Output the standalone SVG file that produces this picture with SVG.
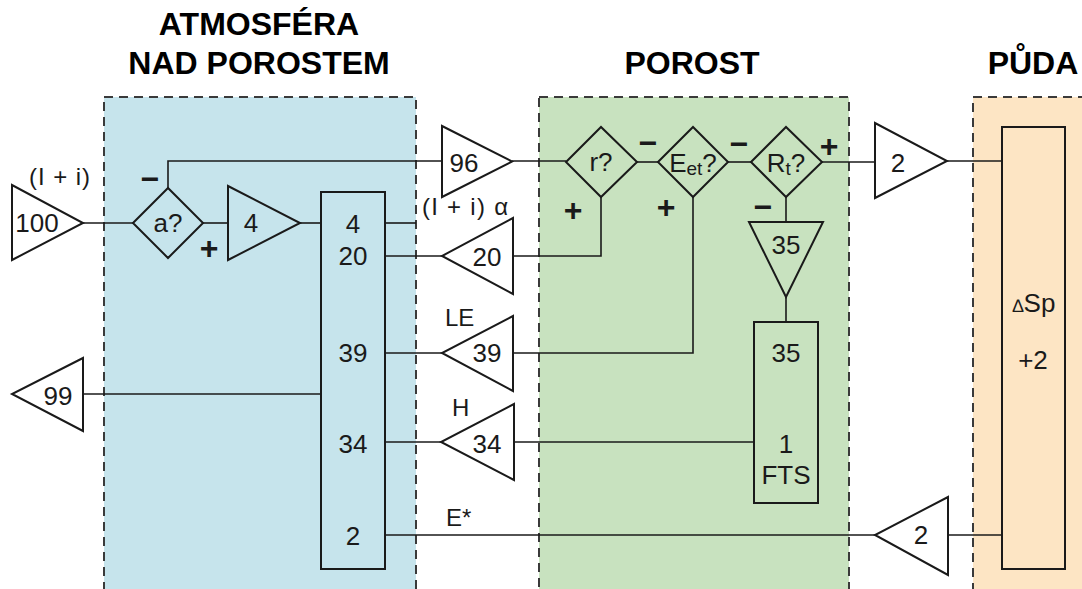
<svg xmlns="http://www.w3.org/2000/svg" width="1082" height="589" viewBox="0 0 1082 589">
<style>
.panel{stroke:#3a3a3a;stroke-width:2;stroke-dasharray:9 6}
.shape{fill:none;stroke:#1a1a1a;stroke-width:2}
.wire{fill:none;stroke:#1a1a1a;stroke-width:1.6}
text{font-family:"Liberation Sans",Arial,sans-serif;fill:#1a1a1a}
.t{font-size:26px;text-anchor:middle}
.l{font-size:24px}
.title{font-size:32px;font-weight:bold;text-anchor:middle;fill:#000}
.sign{font-size:32px;font-weight:bold;text-anchor:middle}
.sub{font-size:19px}
</style>
<rect width="1082" height="589" fill="#ffffff"/>
<g id="panels">
<rect id="panel-atm" x="104" y="97" width="312" height="520" fill="#c6e4ec" class="panel"/>
<rect id="panel-porost" x="539" y="97" width="310" height="520" fill="#c8e2bf" class="panel"/>
<rect id="panel-puda" x="973" y="97" width="140" height="520" fill="#fde5c4" class="panel"/>
</g>
<g id="titles">
<text class="title" x="259" y="35">ATMOSFÉRA</text>
<text class="title" x="259" y="74">NAD POROSTEM</text>
<text class="title" x="692" y="74">POROST</text>
<text class="title" x="1033" y="74">PŮDA</text>
</g>
<g id="connectors">
<polyline class="wire" points="83,223 133,223"/>
<polyline class="wire" points="203,223 228,223"/>
<polyline class="wire" points="300,223 321,223"/>
<polyline class="wire" points="168,188 168,161 442,161"/>
<polyline class="wire" points="512,161 566,161"/>
<polyline class="wire" points="637,162 658,162"/>
<polyline class="wire" points="728,162 751,162"/>
<polyline class="wire" points="822,162 875,162"/>
<polyline class="wire" points="947,161 1002,161"/>
<polyline class="wire" points="385,223 416,223"/>
<polyline class="wire" points="385,256 442,256"/>
<polyline class="wire" points="513,256 601,256 601,197"/>
<polyline class="wire" points="385,353 442,353"/>
<polyline class="wire" points="513,353 693,353 693,197"/>
<polyline class="wire" points="786,197 786,222"/>
<polyline class="wire" points="786,297 786,322"/>
<polyline class="wire" points="385,442 441,442"/>
<polyline class="wire" points="514,442 754,442"/>
<polyline class="wire" points="83,394 321,394"/>
<polyline class="wire" points="385,535 875,535"/>
<polyline class="wire" points="948,535 1002,535"/>
</g>
<g id="n-100">
<polygon class="shape" points="12,185 12,260 83,223"/>
<text class="t" x="37" y="232">100</text>
<text class="l" x="29" y="185" textLength="61" lengthAdjust="spacing">(I + i)</text>
</g>
<g id="n-a">
<polygon class="shape" points="133,223 168,188 203,223 168,258"/>
<text class="t" x="168" y="232">a?</text>
</g>
<g id="n-4">
<polygon class="shape" points="228,186 228,260 300,223"/>
<text class="t" x="251" y="232">4</text>
</g>
<g id="n-atm-box">
<rect class="shape" x="321" y="192" width="64" height="377"/>
<text class="t" x="353" y="233">4</text>
<text class="t" x="353" y="265">20</text>
<text class="t" x="353" y="362">39</text>
<text class="t" x="353" y="453">34</text>
<text class="t" x="353" y="545">2</text>
</g>
<g id="n-96">
<polygon class="shape" points="442,126 442,197 512,161.5"/>
<text class="t" x="464" y="172">96</text>
</g>
<g id="n-20">
<polygon class="shape" points="513,218 513,294 442,256"/>
<text class="t" x="487" y="266">20</text>
<text class="l" x="422" y="215" textLength="86" lengthAdjust="spacing">(I + i) α</text>
</g>
<g id="n-39">
<polygon class="shape" points="513,316 513,391 442,353"/>
<text class="t" x="487" y="362">39</text>
<text class="l" x="445" y="326">LE</text>
</g>
<g id="n-34">
<polygon class="shape" points="514,404 514,480 441,442"/>
<text class="t" x="487" y="453">34</text>
<text class="l" x="452" y="416">H</text>
</g>
<g id="n-99">
<polygon class="shape" points="83,358 83,431 12,394"/>
<text class="t" x="58" y="405">99</text>
</g>
<g id="n-r">
<polygon class="shape" points="566,162 601,127 637,162 601,197"/>
<text class="t" x="601" y="171">r?</text>
</g>
<g id="n-eet">
<polygon class="shape" points="658,162 693,127 728,162 693,197"/>
<text class="t" x="693" y="172">E<tspan class="sub" dy="3">et</tspan><tspan dy="-3">?</tspan></text>
</g>
<g id="n-rt">
<polygon class="shape" points="751,162 786,127 822,162 786,197"/>
<text class="t" x="786" y="172">R<tspan class="sub" dy="3">t</tspan><tspan dy="-3">?</tspan></text>
</g>
<g id="n-35-tri">
<polygon class="shape" points="749,222 823,222 786,297"/>
<text class="t" x="786" y="254">35</text>
</g>
<g id="n-fts-box">
<rect class="shape" x="754" y="322" width="64" height="181"/>
<text class="t" x="786" y="362">35</text>
<text class="t" x="786" y="453">1</text>
<text class="t" x="786" y="484">FTS</text>
</g>
<g id="n-2-top">
<polygon class="shape" points="875,123 875,198 947,161"/>
<text class="t" x="898" y="172">2</text>
</g>
<g id="n-2-bottom">
<polygon class="shape" points="948,497 948,575 875,535"/>
<text class="t" x="921" y="544">2</text>
<text class="l" x="446" y="526">E*</text>
</g>
<g id="n-soil-box">
<rect class="shape" x="1002" y="127" width="63" height="442"/>
<text class="t" x="1034" y="312"><tspan font-size="18">∆</tspan>Sp</text>
<text class="t" x="1033" y="369">+2</text>
</g>
<g id="signs">
<text class="sign" x="150" y="190">−</text>
<text class="sign" x="209" y="259">+</text>
<text class="sign" x="648" y="154">−</text>
<text class="sign" x="573" y="221">+</text>
<text class="sign" x="666" y="218">+</text>
<text class="sign" x="739" y="155">−</text>
<text class="sign" x="829" y="157">+</text>
<text class="sign" x="763" y="218">−</text>
</g>
</svg>
